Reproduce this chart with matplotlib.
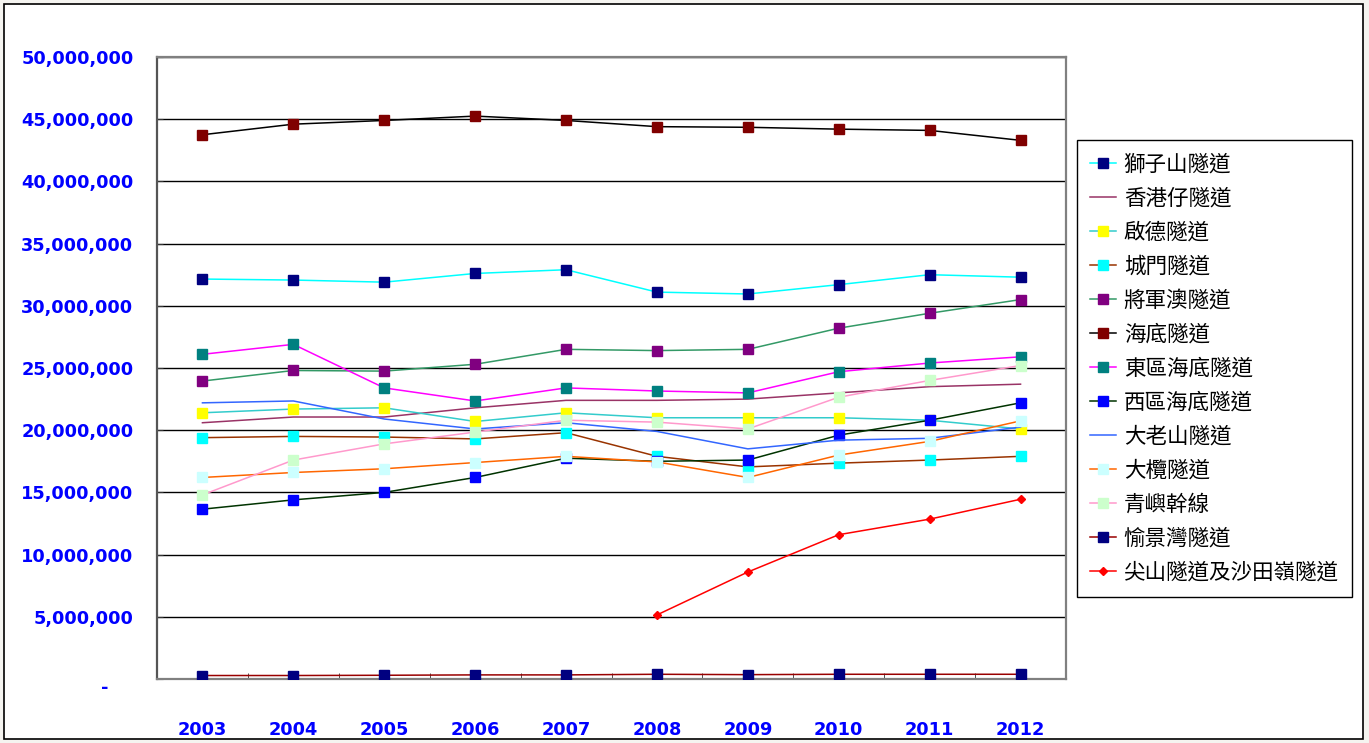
import matplotlib
matplotlib.use("Agg")
import matplotlib.pyplot as plt
from matplotlib.patches import Rectangle
from matplotlib.ticker import FuncFormatter, FixedLocator
import matplotlib.transforms as mtransforms

years = ["2003", "2004", "2005", "2006", "2007", "2008", "2009", "2010", "2011", "2012"]

names = ["獅子山隧道", "香港仔隧道", "啟德隧道", "城門隧道", "將軍澳隧道", "海底隧道",
         "東區海底隧道", "西區海底隧道", "大老山隧道", "大欖隧道", "青嶼幹線",
         "愉景灣隧道", "尖山隧道及沙田嶺隧道"]

# values in millions of vehicles
lion_rock = [32.15, 32.07, 31.9, 32.6, 32.9, 31.1, 30.95, 31.7, 32.5, 32.3]
aberdeen = [20.6, 21.06, 21.06, 21.8, 22.4, 22.4, 22.5, 23.0, 23.5, 23.7]
kai_tak = [21.4, 21.7, 21.8, 20.7, 21.4, 21.0, 21.0, 21.0, 20.8, 20.1]
shing_mun = [19.4, 19.5, 19.45, 19.3, 19.8, 17.9, 17.05, 17.35, 17.6, 17.9]
tko = [23.95, 24.8, 24.75, 25.3, 26.5, 26.4, 26.5, 28.2, 29.4, 30.5]
cross_harbour = [43.75, 44.6, 44.9, 45.25, 44.9, 44.4, 44.35, 44.2, 44.1, 43.3]
eastern = [26.1, 26.9, 23.4, 22.35, 23.4, 23.15, 23.0, 24.7, 25.4, 25.9]
western = [13.65, 14.4, 15.0, 16.2, 17.75, 17.5, 17.6, 19.6, 20.8, 22.2]
tate = [22.2, 22.35, 20.9, 20.1, 20.6, 19.9, 18.5, 19.2, 19.35, 20.25]
tai_lam = [16.2, 16.6, 16.9, 17.4, 17.9, 17.45, 16.2, 18.0, 19.1, 20.75]
tsing_yi = [14.8, 17.6, 18.9, 19.85, 20.8, 20.65, 20.1, 22.65, 24.0, 25.2]
discovery = [0.28, 0.28, 0.3, 0.33, 0.33, 0.38, 0.35, 0.38, 0.38, 0.38]
eagles_nest = [None, None, None, None, None, 5.15, 8.6, 11.6, 12.85, 14.45]

series = [lion_rock, aberdeen, kai_tak, shing_mun, tko, cross_harbour, eastern,
          western, tate, tai_lam, tsing_yi, discovery, eagles_nest]

line_colors = ["#00FFFF", "#993366", "#33CCCC", "#993300", "#339966", "#000000",
               "#FF00FF", "#003300", "#3366FF", "#FF6600", "#FF99CC", "#990000", "#FF0000"]
marker_colors = ["#000080", None, "#FFFF00", "#00FFFF", "#800080", "#800000",
                 "#008080", "#0000FF", None, "#CCFFFF", "#CCFFCC", "#000080", "#FF0000"]
markers = ["s", None, "s", "s", "s", "s", "s", "s", None, "s", "s", "s", "D"]

plt.rcParams['font.family'] = ['DejaVu Sans']

W, H = 1369, 743
fig = plt.figure(figsize=(W / 100, H / 100), dpi=100)
fig.patch.set_facecolor("#F5F4F0")
fig.patches.append(Rectangle((4 / W, 4 / H), (1363 - 4) / W, (739 - 4) / H,
                             transform=fig.transFigure, facecolor="white",
                             edgecolor="black", linewidth=1.2, zorder=-10))

ax = fig.add_axes([157 / W, 64 / H, (1066 - 157) / W, (679 - 57) / H])
ax.set_facecolor("white")

x = list(range(len(years)))
for i, (name, vals) in enumerate(zip(names, series)):
    xs = [xi for xi, v in zip(x, vals) if v is not None]
    ys = [v * 1e6 for v in vals if v is not None]
    kw = dict(color=line_colors[i], linewidth=1.1, label=name, zorder=3)
    if markers[i] is not None:
        kw.update(marker=markers[i], markerfacecolor=marker_colors[i],
                  markeredgecolor=marker_colors[i],
                  markersize=6.5 if markers[i] == "s" else 4.5)
    ax.plot(xs, ys, **kw)

ax.set_xlim(-0.5, len(years) - 0.5)
ax.set_ylim(0, 50e6)
ax.set_yticks([i * 5e6 for i in range(11)])
ax.yaxis.set_major_formatter(FuncFormatter(lambda v, p: "" if v == 0 else f"{int(v):,}"))
ax.yaxis.grid(True, color="black", linewidth=1.0)
ax.set_axisbelow(True)

ax.set_xticks(x)
ax.set_xticklabels(years)
ax.xaxis.set_minor_locator(FixedLocator([i + 0.5 for i in range(len(years) - 1)]))
ax.tick_params(axis="x", which="major", length=0, pad=30, labelsize=12.8,
               labelcolor="#0000FF")
ax.tick_params(axis="x", which="minor", length=4, direction="in", color="#333333")
ax.tick_params(axis="y", which="major", length=4, direction="in", pad=17,
               labelsize=12.8, labelcolor="#0000FF", color="#333333")
for lab in ax.get_xticklabels() + ax.get_yticklabels():
    lab.set_fontweight("bold")

for side, sp in ax.spines.items():
    sp.set_color("#808080")
    sp.set_linewidth(1.6)
ax.spines["left"].set_color("#555555")

# zero label "-"
trans = mtransforms.blended_transform_factory(ax.transAxes, ax.transData)
ax.text(-0.058, 0, "-", transform=trans, ha="center", va="top", color="#0000FF",
        fontsize=12.8, fontweight="bold")

leg = fig.legend(loc="upper left", bbox_to_anchor=(1077 / W, 1 - 140 / H),
                 prop={"family": ["Noto Sans CJK TC", "DejaVu Sans"], "size": 15.5},
                 frameon=True, fancybox=False, edgecolor="black", framealpha=1,
                 handlelength=1.2, handletextpad=0.35, labelspacing=0.56,
                 borderpad=0.62, borderaxespad=0)
leg.get_frame().set_linewidth(1.0)

fig.savefig("out.png", dpi=100, facecolor=fig.get_facecolor())
